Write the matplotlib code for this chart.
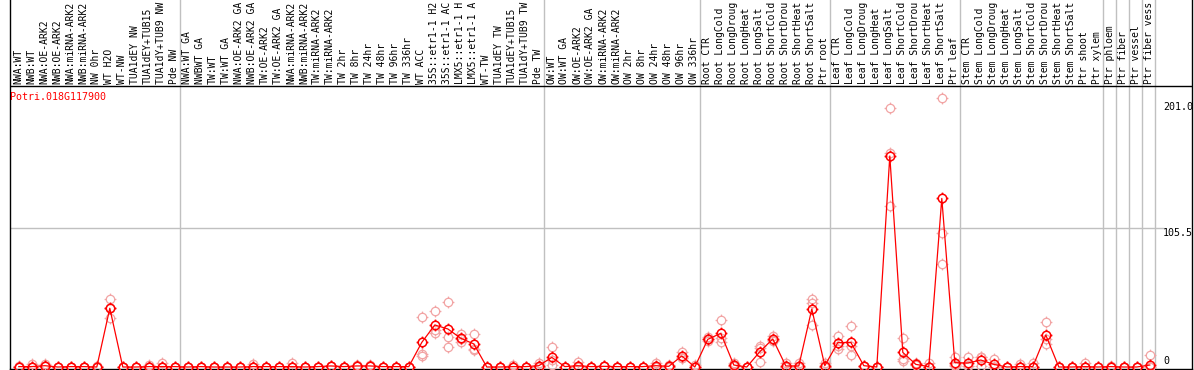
import matplotlib
matplotlib.use('Agg')
import matplotlib.pyplot as plt
from matplotlib.path import Path

# Sample labels (88 columns), as far as they show in the header
labels = [
    'NWA:WT', 'NWB:WT', 'NWA:OE-ARK2', 'NWB:OE-ARK2', 'NWA:miRNA-ARK2', 'NWB:miRNA-ARK2',
    'NW 0hr', 'WT H2O', 'WT-NW', 'TUA1dEY NW', 'TUA1dEY+TUB15', 'TUA1dY+TUB9 NW', 'Pde NW',
    'NWA:WT GA', 'NWBWT GA', 'TW:WT', 'TW:WT GA', 'NWA:OE-ARK2 GA', 'NWB:OE-ARK2 GA',
    'TW:OE-ARK2', 'TW:OE-ARK2 GA', 'NWA:miRNA-ARK2', 'NWB:miRNA-ARK2', 'TW:miRNA-ARK2',
    'TW:miRNA-ARK2', 'TW 2hr', 'TW 8hr', 'TW 24hr', 'TW 48hr', 'TW 96hr', 'TW 336hr',
    'WT ACC', '35S::etr1-1 H2', '35S::etr1-1 AC', 'LMX5::etr1-1 H', 'LMX5::etr1-1 A',
    'WT-TW', 'TUA1dEY TW', 'TUA1dEY+TUB15', 'TUA1dY+TUB9 TW', 'Pde TW',
    'OW:WT', 'OW:WT GA', 'OW:OE-ARK2', 'OW:OE-ARK2 GA', 'OW:miRNA-ARK2', 'OW:miRNA-ARK2',
    'OW 2hr', 'OW 8hr', 'OW 24hr', 'OW 48hr', 'OW 96hr', 'OW 336hr',
    'Root CTR', 'Root LongCold', 'Root LongDroug', 'Root LongHeat', 'Root LongSalt',
    'Root ShortCold', 'Root ShortDrou', 'Root ShortHeat', 'Root ShortSalt', 'Ptr root',
    'Leaf CTR', 'Leaf LongCold', 'Leaf LongDroug', 'Leaf LongHeat', 'Leaf LongSalt',
    'Leaf ShortCold', 'Leaf ShortDrou', 'Leaf ShortHeat', 'Leaf ShortSalt', 'Ptr leaf',
    'Stem CTR', 'Stem LongCold', 'Stem LongDroug', 'Stem LongHeat', 'Stem LongSalt',
    'Stem ShortCold', 'Stem ShortDrou', 'Stem ShortHeat', 'Stem ShortSalt',
    'Ptr shoot', 'Ptr xylem', 'Ptr phloem', 'Ptr fiber', 'Ptr vessel', 'Ptr fiber vess',
]

# Mean expression per sample
means = [
    0.3, 0.3, 1.0, 0, 0.3, 0.3, 0, 44.6, 0, 0, 0.3, 0.3, 0.3,
    0, 0.3, 0, 0, 0, 0.3, 0.3, 0.3, 0.3, 0, 0.3, 0.8, 0.3, 0.8, 0.8, 0.3, 0.3, 0.3,
    18.7, 31.9, 28.9, 21.8, 17.5, 0, 0, 0.3, 0.3, 1.0,
    7.3, 0.3, 1.0, 0.3, 0.5, 0.3, 0.3, 0.3, 1.0, 0.5, 8.4, 0,
    21.0, 25.6, 1.5, 0, 11.6, 21.3, 0.8, 0.8, 44.0, 1.0,
    18.5, 18.7, 1.0, 0, 160.2, 11.1, 2.0, 0.3, 128.0, 3.3,
    3.0, 5.3, 2.0, 0, 0.3, 0.3, 24.3, 0, 0, 0.3, 0,
    0.3, 0, 0, 1.5,
]

# Individual replicates
rep1 = [
    0.3, 2.3, 2.0, 0, 0.3, 0.3, 1.0, 51.6, 0, 0, 1.5, 3.0, 0.3,
    0, 0.3, 0, 0, 0, 2.0, 0.3, 0.3, 3.0, 0, 0.3, 0.8, 0.3, 1.5, 1.5, 0.3, 0.3, 0.3,
    38.0, 42.5, 49.0, 24.8, 25.0, 0, 0, 1.5, 0.3, 3.0,
    15.4, 0.3, 4.0, 0.3, 0.5, 0.3, 0.3, 0.3, 3.0, 1.5, 11.6, 1.5,
    22.5, 35.7, 3.0, 0, 16.0, 23.8, 3.0, 3.3, 52.0, 3.0,
    23.8, 31.4, 1.0, 0, 196.4, 21.8, 3.0, 3.0, 204.0, 7.8,
    7.3, 7.8, 6.0, 0, 2.0, 3.0, 34.4, 0, 0, 3.0, 0,
    1.0, 0, 0, 9.0,
]
rep2 = [
    0, 0, 0.5, 0, 0.3, 0.3, 0, 37.5, 0, 0, 0, 0, 0.3,
    0, 0.3, 0, 0, 0, 0, 0.3, 0.3, 0, 0, 0.3, 0.8, 0.3, 0.5, 0.5, 0.3, 0.3, 0.3,
    8.6, 25.6, 15.0, 19.2, 13.0, 0, 0, 0, 0.3, 0,
    1.5, 0.3, 0, 0.3, 0.5, 0.3, 0.3, 0.3, 0, 0, 6.5, 0,
    19.5, 19.2, 0.5, 0, 4.0, 19.5, 0, 0, 32.0, 0,
    13.7, 9.1, 1.0, 0, 122.0, 4.5, 1.5, 0, 78.0, 0.8,
    0.8, 0.8, 0, 0, 0, 0, 17.2, 0, 0, 0, 0,
    0, 0, 0, 0,
]
rep3 = [
    0.5, 0, 0.5, 0, 0.3, 0.3, 0, 44.7, 0, 0, 0, 0, 0.3,
    0, 0.3, 0, 0, 0, 0, 0.3, 0.3, 0, 0, 0.3, 0.8, 0.3, 0.5, 0.5, 0.3, 0.3, 0.3,
    9.9, 28.0, 22.5, 21.4, 13.5, 0, 0, 0, 0.3, 0,
    5.0, 0.3, 0, 0.3, 0.5, 0.3, 0.3, 0.3, 0, 0, 7.0, 0,
    21.0, 21.9, 1.0, 0, 14.8, 20.6, 0, 0, 48.5, 0,
    16.0, 15.6, 1.0, 0, 162.2, 6.0, 1.5, 0, 101.7, 1.3,
    1.0, 7.3, 0, 0, 0, 0, 21.3, 0, 0, 0, 0,
    0, 0, 0, 0,
]

# Group boundaries (column index after which a grey separator is drawn)
group_ends = [13, 41, 53, 63, 73, 84, 85, 86, 87, 88]
y_ticks = [0, 105.5, 201.0]
gene = 'Potri.018G117900'

W, H = 1194, 370
fig = plt.figure(figsize=(W / 100, H / 100), dpi=100)
ax = fig.add_axes([10 / W, 1 / H, (1192 - 10) / W, (H - 1) / H])

# pixel mapping: column boundary k at x = 11 + 13k, value v at y = 367 - 1.317 v
sy = 1.317
ax.set_xlim(-1 / 13, (1192 - 11) / 13)
ax.set_ylim(-2 / sy, 367 / sy)
ax.set_xticks([])
ax.set_yticks([])
ax.spines['top'].set_visible(False)
for s in ['left', 'bottom', 'right']:
    ax.spines[s].set_color('black')
    ax.spines[s].set_linewidth(1.0)

header_y = (367 - 86) / sy
grey = '#c0c0c0'

for k in group_ends:
    ax.axvline(k, color=grey, lw=1.0, zorder=1)
ax.axhline(header_y, color='black', lw=1.0, zorder=2)
ax.plot([-1 / 13, 88.6], [105.5, 105.5], color=grey, lw=1.0, zorder=1)

# circle-with-ticks marker
ticks = Path([(0, 1), (0, 1.4), (0, -1), (0, -1.4), (1, 0), (1.4, 0), (-1, 0), (-1.4, 0)],
             [Path.MOVETO, Path.LINETO] * 4)
mk = Path.make_compound_path(Path.unit_circle(), ticks)

xs = [i + 0.6 for i in range(len(labels))]
for rep in (rep1, rep2, rep3):
    ax.plot(xs, rep, ls='none', marker=mk, ms=8.5, mfc='none', mec='#f2a4a4', mew=0.9, zorder=3)
ax.plot(xs, means, color='red', lw=0.9, zorder=4)
ax.plot(xs, means, ls='none', marker=mk, ms=8.5, mfc='none', mec='red', mew=1.1, zorder=5)

mono = 'DejaVu Sans Mono'
lab_y = (367 - 84) / sy
for i, lab in enumerate(labels):
    ax.text(i + 0.55, lab_y, lab, rotation=90, ha='center', va='bottom',
            fontsize=7.0, family=mono, color='black', clip_on=False)

ax.text(-1 / 13 + 0.02, (367 - 97) / sy, gene, ha='left', va='center',
        fontsize=7.2, family=mono, color='red')

lx = (1163 - 11) / 13
ax.text(lx, y_ticks[2], '%.1f' % y_ticks[2], ha='left', va='top', fontsize=7.2, family=mono)
ax.text(lx, y_ticks[1], '%.1f' % y_ticks[1], ha='left', va='top', fontsize=7.2, family=mono)
ax.text(lx + 0.05, y_ticks[0] + 0.5, '0', ha='left', va='bottom', fontsize=7.2, family=mono)

fig.savefig('out.png', dpi=100)
